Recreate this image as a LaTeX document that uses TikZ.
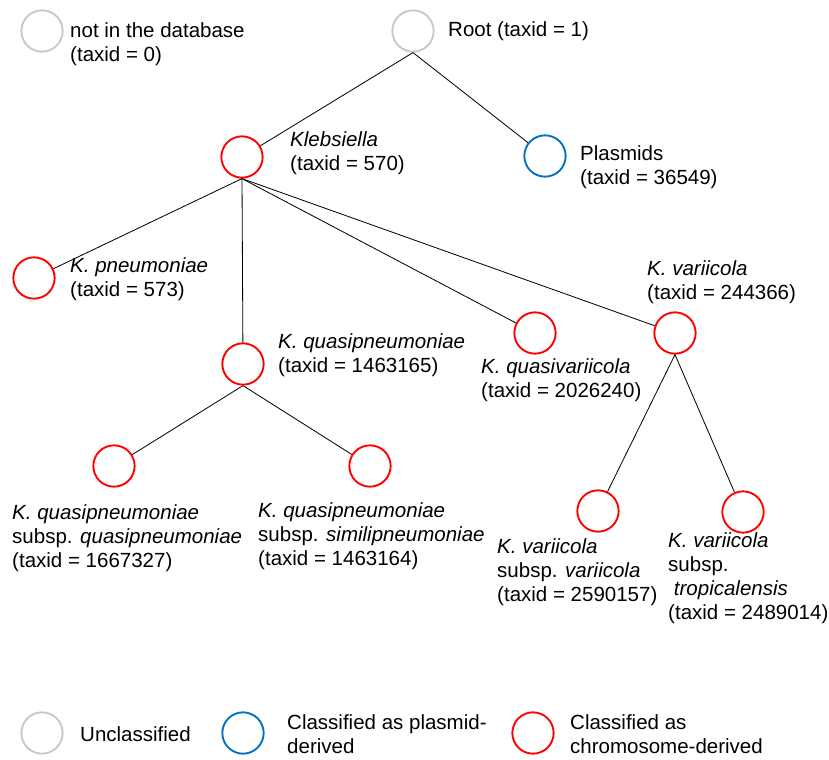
\documentclass[tikz,border=0pt]{standalone}
\usepackage{fontspec}
\setmainfont{Liberation Sans}
\definecolor{unclgray}{RGB}{200,200,200}
\definecolor{plasblue}{RGB}{0,112,192}
\definecolor{chromred}{RGB}{255,0,0}
\tikzset{
  taxon/.style={circle, draw, line width=1.6pt, minimum size=1.24cm, inner sep=0pt},
  uncl/.style={taxon, draw=unclgray},
  plas/.style={taxon, draw=plasblue},
  chrom/.style={taxon, draw=chromred},
  lbl/.style={anchor=west, align=left, inner sep=0pt,
    font=\fontsize{17.5pt}{20.5pt}\selectfont},
  branch/.style={draw=black, line width=0.7pt}
}
\begin{document}
\begin{tikzpicture}[x=0.03cm,y=-0.03cm]
        \useasboundingbox (0,0) rectangle (829,760);
        % Nodes
        \node[uncl]  (nodb)   at (42,31)  {};
        \node[uncl]  (root)   at (413,31) {};
        \node[chrom] (klebs)  at (242,157) {};
        \node[plas]  (plasm)  at (545,156) {};

        \node[chrom] (kpneu)  at (34,278)  {};
        \node[chrom] (kqpneu) at (243,364) {};
        \node[chrom] (kqvari) at (535,333) {};
        \node[chrom] (kvari)  at (675,333) {};

        \node[chrom] (kqq)    at (114,466) {};
        \node[chrom] (kqs)    at (370,466) {};
        \node[chrom] (kvv)    at (598,511) {};
        \node[chrom] (kvt)    at (743,512) {};

        % Labels
        \node[lbl] (nodb-l)   at (70,44)   {not in the database\\(taxid = 0)};
        \node[lbl] (root-l)   at (448,31)  {Root (taxid = 1)};
        \node[lbl] (klebs-l)  at (290,153) {\textit{Klebsiella}\\(taxid = 570)};
        \node[lbl] (plasm-l)  at (580,167) {Plasmids\\(taxid = 36549)};
        \node[lbl] (kpneu-l)  at (70,279)  {\textit{K. pneumoniae}\\(taxid = 573)};
        \node[lbl] (kvari-l)  at (647,282) {\textit{K. variicola}\\(taxid = 244366)};
        \node[lbl] (kqpneu-l) at (278,355) {\textit{K. quasipneumoniae}\\(taxid = 1463165)};
        \node[lbl] (kqvari-l) at (481,380) {\textit{K. quasivariicola}\\(taxid = 2026240)};
        \node[lbl] (kqq-l)    at (12,538)  {\textit{K. quasipneumoniae}\\subsp. \textit{quasipneumoniae}\\(taxid = 1667327)};
        \node[lbl] (kqs-l)    at (258,536) {\textit{K. quasipneumoniae}\\subsp. \textit{similipneumoniae}\\(taxid = 1463164)};
        \node[lbl] (kvv-l)    at (497,572) {\textit{K. variicola}\\subsp. \textit{variicola}\\(taxid = 2590157)};
        \node[lbl] (kvt-l)    at (668,578) {\textit{K. variicola}\\subsp.\\\ \textit{tropicalensis}\\(taxid = 2489014)};

        % Edges
        \path[branch] (root.south) -- (klebs);
        \path[branch] (root.south) -- (plasm);
        \foreach \c in {kpneu, kqpneu, kqvari, kvari}
          \path[branch] (klebs.south) -- (\c);
        \path[branch] (kqpneu.south) -- (kqq);
        \path[branch] (kqpneu.south) -- (kqs);
        \path[branch] (kvari.south) -- (kvv);
        \path[branch] (kvari.south) -- (kvt);

        % Legend
        \node[uncl]  (leg-u) at (42,733)  {};
        \node[plas]  (leg-p) at (243,733) {};
        \node[chrom] (leg-c) at (533,733) {};
        \node[lbl] (leg-u-l) at (80,734)  {Unclassified};
        \node[lbl] (leg-p-l) at (287,734) {Classified as plasmid-\\derived};
        \node[lbl] (leg-c-l) at (570,734) {Classified as\\chromosome-derived};
    \end{tikzpicture}
\end{document}
